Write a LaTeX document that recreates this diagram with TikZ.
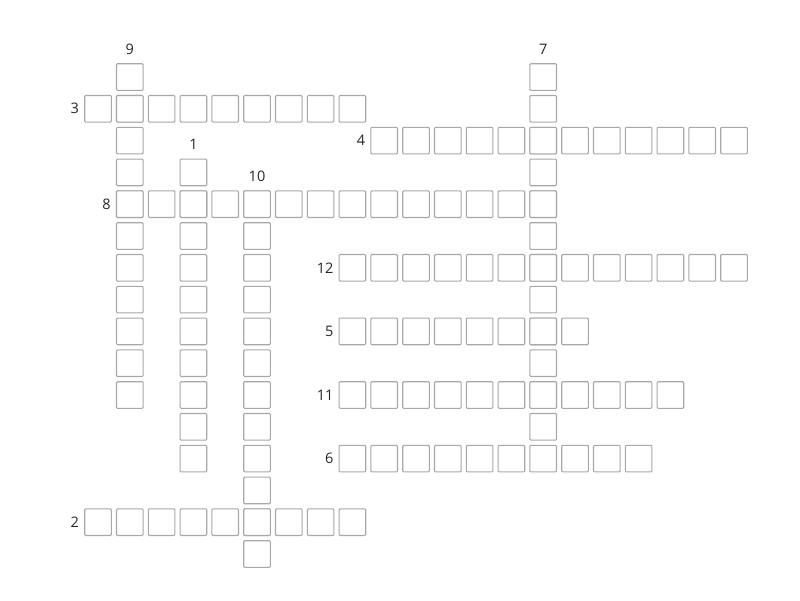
\documentclass[tikz,border=0pt]{standalone}
\usepackage{fontspec}
\setmainfont{Open Sans}
\usetikzlibrary{positioning}
\definecolor{boxgray}{RGB}{168,168,168}

\tikzset{
  cell/.style={draw=boxgray, line width=1.1pt, rounded corners=1pt,
    minimum size=26.6pt, inner sep=0pt, fill=white},
  num/.style={inner sep=0pt, font=\fontsize{14.5}{16}\selectfont, text=black!85}
}

\begin{document}
\begin{tikzpicture}[x=1pt,y=-1pt]
\useasboundingbox (0,0) rectangle (800,600);
% word / first column / first row / length / direction
\foreach \w/\c/\r/\n/\d in {9/1/0/11/down, 3/0/1/9/across, 4/9/2/12/across,
    1/3/3/10/down, 10/5/4/12/down, 8/1/4/14/across, 7/14/0/12/down,
    12/8/6/13/across, 5/8/8/8/across, 11/8/10/11/across, 6/8/12/10/across,
    2/0/14/9/across}{
  \foreach \k in {1,...,\n}{
    \ifnum\pdfstrcmp{\d}{down}=0
      \node[cell] (w\w-\k) at ({98+31.8*\c},{77+31.8*(\r+\k-1)}) {};
    \else
      \node[cell] (w\w-\k) at ({98+31.8*(\c+\k-1)},{77+31.8*\r}) {};
    \fi
  }
}
% clue numbers
\node[num, above=8.5pt of w9-1] (n9) {9};
\node[num, above=8.5pt of w7-1] (n7) {7};
\node[num, above=8.5pt of w1-1] (n1) {1};
\node[num, above=8.5pt of w10-1] (n10) {10};
\node[num, left=5pt of w3-1] (n3) {3};
\node[num, left=5pt of w4-1] (n4) {4};
\node[num, left=5pt of w8-1] (n8) {8};
\node[num, left=5pt of w12-1] (n12) {12};
\node[num, left=5pt of w5-1] (n5) {5};
\node[num, left=5pt of w11-1] (n11) {11};
\node[num, left=5pt of w6-1] (n6) {6};
\node[num, left=5pt of w2-1] (n2) {2};
\end{tikzpicture}
\end{document}
